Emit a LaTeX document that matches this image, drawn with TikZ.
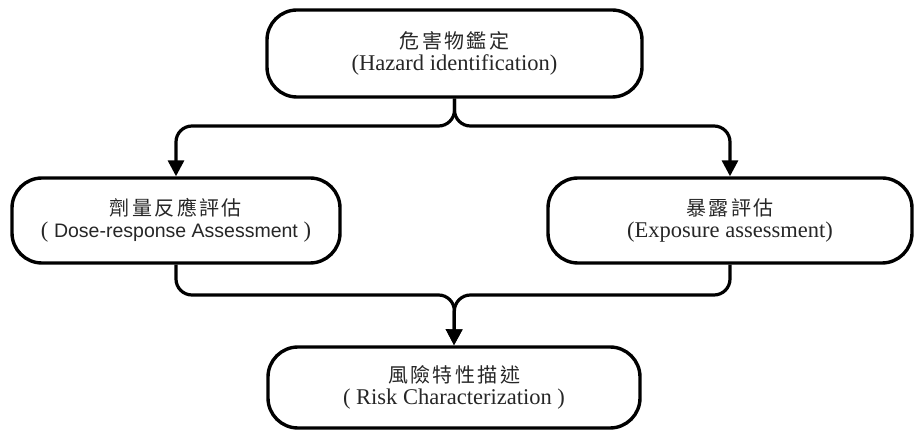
\documentclass[tikz,border=0pt]{standalone}
\usepackage{fontspec}
\setmainfont{Liberation Serif}
\newfontfamily\cjk[LetterSpace=12]{Noto Sans CJK TC}
\newfontfamily\sanslat{Liberation Sans}
\newcommand\cjkline[1]{{\cjk\fontsize{20pt}{21pt}\selectfont #1}}
\usetikzlibrary{arrows.meta}
\begin{document}
\begin{tikzpicture}[x=1pt,y=-1pt,
  stage/.style={draw=black, line width=3.4pt, rounded corners=30pt, align=center,
    inner sep=0pt, text=black!85, font=\fontsize{22.5pt}{21.5pt}\selectfont},
  conn/.style={line width=3.2pt, rounded corners=16pt,
    -{Triangle[length=16pt,width=16pt]}}]
\useasboundingbox (0,0) rectangle (914,430);

% process stages
\node[stage, minimum width=375pt, minimum height=87pt] (haz) at (454.5,53.5)
  {\cjkline{危害物鑑定}\\(Hazard identification)};
\node[stage, minimum width=328pt, minimum height=85pt] (dose) at (176,220.5)
  {\cjkline{劑量反應評估}\\( {\sanslat\fontsize{19.5pt}{21pt}\selectfont Dose-response Assessment} )};
\node[stage, minimum width=364pt, minimum height=85pt] (expo) at (730,220.5)
  {\cjkline{暴露評估}\\(Exposure assessment)};
\node[stage, minimum width=372pt, minimum height=81pt] (risk) at (454,387.5)
  {\cjkline{風險特性描述}\\( Risk Characterization )};

% junction points
\coordinate (split) at (454.5,126);
\coordinate (merge) at (454.5,295);

% connectors
\draw[conn] (haz.south) -- (split) -| (dose.north);
\draw[conn] (haz.south) -- (split) -| (expo.north);
\draw[conn] (dose.south) |- (merge) -- (risk.north);
\draw[conn] (expo.south) |- (merge) -- (risk.north);
\end{tikzpicture}
\end{document}
